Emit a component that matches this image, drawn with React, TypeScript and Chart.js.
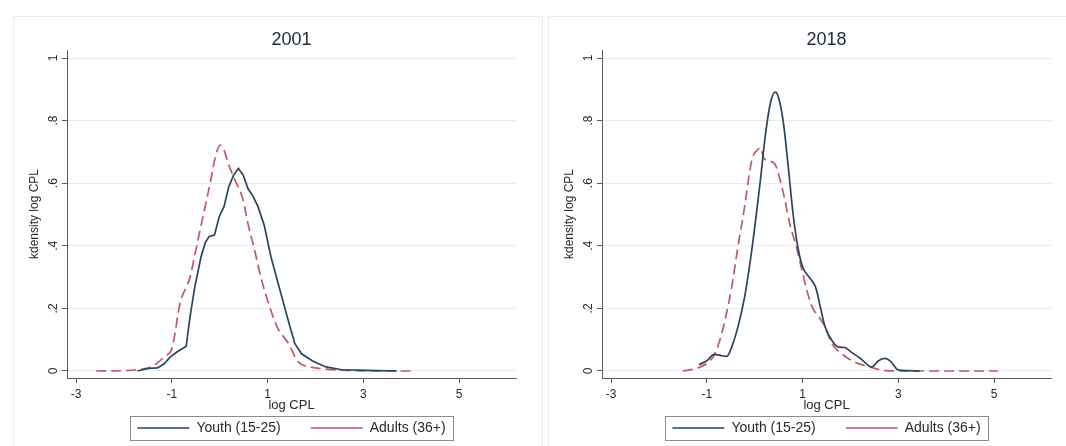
import React, { useEffect, useRef } from "react";
import { Chart, registerables } from "chart.js";

Chart.register(...registerables);

// ---- data -------------------------------------------------------------
const X_TICKS = [-3, -1, 1, 3, 5];
const Y_TICKS = [0, 0.2, 0.4, 0.6, 0.8, 1];
const X_TITLE = "log CPL";
const Y_TITLE = "kdensity log CPL";
const SERIES_LABELS = ["Youth (15-25)", "Adults (36+)"];
const PANEL_TITLES = ["2001", "2018"];

const youth2001X = [-1.72, -1.5, -1.3, -1.16, -1.03, -0.9, -0.82, -0.7, -0.62, -0.52, -0.39, -0.3, -0.22, -0.11, -0.01, 0.09, 0.19, 0.29, 0.39, 0.49, 0.59, 0.7, 0.8, 0.93, 1.07, 1.24, 1.41, 1.57, 1.71, 1.95, 2.22, 2.55, 3.09, 3.7];
const youth2001Y = [0, 0.008, 0.01, 0.023, 0.045, 0.06, 0.068, 0.079, 0.173, 0.269, 0.365, 0.41, 0.43, 0.434, 0.493, 0.525, 0.589, 0.626, 0.647, 0.626, 0.583, 0.557, 0.525, 0.466, 0.365, 0.269, 0.173, 0.087, 0.055, 0.031, 0.013, 0.004, 0.002, 0];

const adults2001X = [-2.58, -2.0, -1.74, -1.43, -1.16, -0.99, -0.83, -0.62, -0.48, -0.34, -0.2, -0.08, 0.01, 0.09, 0.19, 0.32, 0.49, 0.59, 0.73, 0.86, 1.0, 1.2, 1.44, 1.64, 1.88, 2.22, 2.69, 3.36, 4.05];
const adults2001Y = [0, 0.001, 0.004, 0.013, 0.045, 0.077, 0.215, 0.3, 0.4, 0.5, 0.6, 0.69, 0.722, 0.706, 0.658, 0.61, 0.546, 0.471, 0.386, 0.3, 0.226, 0.141, 0.087, 0.029, 0.013, 0.006, 0.002, 0, 0];

const youth2018X = [-1.16, -0.99, -0.85, -0.72, -0.58, -0.48, -0.35, -0.21, -0.08, 0.02, 0.12, 0.22, 0.33, 0.43, 0.49, 0.6, 0.7, 0.8, 0.9, 1.0, 1.13, 1.27, 1.37, 1.47, 1.61, 1.74, 1.88, 2.01, 2.21, 2.45, 2.58, 2.72, 2.85, 2.99, 3.2, 3.45];
const youth2018Y = [0.02, 0.034, 0.053, 0.05, 0.047, 0.077, 0.141, 0.237, 0.365, 0.483, 0.611, 0.75, 0.857, 0.891, 0.878, 0.793, 0.654, 0.504, 0.397, 0.333, 0.301, 0.269, 0.205, 0.141, 0.098, 0.077, 0.075, 0.061, 0.04, 0.013, 0.032, 0.04, 0.029, 0.004, 0.001, 0];

const adults2018X = [-1.5, -1.16, -0.96, -0.85, -0.75, -0.62, -0.48, -0.35, -0.21, -0.11, -0.05, 0.06, 0.12, 0.19, 0.33, 0.43, 0.53, 0.63, 0.73, 0.87, 0.97, 1.07, 1.2, 1.34, 1.47, 1.61, 1.81, 2.08, 2.35, 2.62, 2.96, 4.0, 5.08];
const adults2018Y = [0, 0.011, 0.029, 0.05, 0.088, 0.162, 0.269, 0.397, 0.526, 0.632, 0.68, 0.707, 0.713, 0.68, 0.67, 0.659, 0.611, 0.547, 0.472, 0.397, 0.333, 0.269, 0.205, 0.173, 0.141, 0.088, 0.056, 0.029, 0.015, 0.004, 0, 0, 0];

// ---- styling ----------------------------------------------------------
const FONT = "'Liberation Sans', Arial, Helvetica, sans-serif";
const YOUTH_COLOR = "#2a4361";
const ADULT_COLOR = "#bf5a64";
const AXIS_COLOR = "#5a5a5a";
const GRID_COLOR = "#e6ecee";
const TEXT_COLOR = "#2a2a2a";

const CANVAS_W = 528;
const CANVAS_H = 428;

const pts = (xs: number[], ys: number[]) => xs.map((x, i) => ({ x, y: ys[i] }));

// The legend sits close under the axis (Stata style); give the x-axis box
// enough depth after layout so its tick labels and title are not clipped.
const xAxisRoom = {
  id: "xAxisRoom",
  afterLayout(chart: any) {
    const s = chart.scales.x;
    if (!s) return;
    s.bottom = s.top + 40;
    s.height = 40;
  },
};

const legendFrame = {
  id: "legendFrame",
  afterDraw(chart: any) {
    const lg = chart.legend;
    if (!lg || !lg.legendHitBoxes || !lg.legendHitBoxes.length) return;
    const hb = lg.legendHitBoxes;
    const left = Math.min(...hb.map((h: any) => h.left)) - 7;
    const right = Math.max(...hb.map((h: any) => h.left + h.width)) + 8;
    const top = Math.min(...hb.map((h: any) => h.top)) - 5;
    const bottom = Math.max(...hb.map((h: any) => h.top + h.height)) + 5;
    const ctx = chart.ctx;
    ctx.save();
    ctx.strokeStyle = "#8c8c8c";
    ctx.lineWidth = 1;
    ctx.strokeRect(Math.round(left) + 0.5, Math.round(top) + 0.5, Math.round(right - left), Math.round(bottom - top));
    ctx.restore();
  },
};

function Panel(props: { title: string; yx: number[]; yy: number[]; ax: number[]; ay: number[]; smoothYouth: boolean }) {
  const ref = useRef<HTMLCanvasElement | null>(null);
  useEffect(() => {
    if (!ref.current) return;
    const chart = new Chart(ref.current, {
      type: "line",
      data: {
        datasets: [
          {
            label: SERIES_LABELS[0],
            data: pts(props.yx, props.yy),
            borderColor: YOUTH_COLOR,
            backgroundColor: YOUTH_COLOR,
            borderWidth: 1.7,
            pointRadius: 0,
            fill: false,
            tension: props.smoothYouth ? 0.4 : 0,
            cubicInterpolationMode: props.smoothYouth ? "monotone" : "default",
          } as any,
          {
            label: SERIES_LABELS[1],
            data: pts(props.ax, props.ay),
            borderColor: ADULT_COLOR,
            backgroundColor: ADULT_COLOR,
            borderWidth: 1.7,
            borderDash: [10, 5],
            pointRadius: 0,
            fill: false,
            tension: 0.4,
            cubicInterpolationMode: "monotone",
          } as any,
        ],
      },
      options: {
        responsive: false,
        animation: false,
        events: [],
        layout: { padding: { left: 0, right: 26, top: 0, bottom: 0 } },
        scales: {
          x: {
            type: "linear",
            min: -3.19,
            max: 6.19,
            afterBuildTicks: (s: any) => {
              s.ticks = X_TICKS.map((v) => ({ value: v }));
            },
            afterFit: (s: any) => {
              s.height = 13;
            },
            ticks: {
              autoSkip: false,
              minRotation: 0,
              maxRotation: 0,
              padding: 4,
              color: TEXT_COLOR,
              font: { family: FONT, size: 12 },
              callback: (v: any) => String(v),
            },
            grid: { drawOnChartArea: false, drawTicks: true, tickLength: 5, tickColor: AXIS_COLOR, color: AXIS_COLOR },
            border: { display: true, color: AXIS_COLOR, width: 1 },
            title: {
              display: true,
              text: X_TITLE,
              color: TEXT_COLOR,
              font: { family: FONT, size: 13 },
              padding: { top: 0, bottom: 4.5 },
            },
          },
          y: {
            type: "linear",
            min: -0.0224,
            max: 1.0256,
            afterBuildTicks: (s: any) => {
              s.ticks = Y_TICKS.map((v) => ({ value: v }));
            },
            afterFit: (s: any) => {
              s.width = 53;
            },
            ticks: {
              autoSkip: false,
              minRotation: 90,
              maxRotation: 90,
              crossAlign: "center",
              padding: 3,
              color: TEXT_COLOR,
              font: { family: FONT, size: 12 },
              callback: (v: any) => (v === 0 ? "0" : v === 1 ? "1" : String(v).replace(/^0/, "")),
            },
            grid: { drawOnChartArea: true, drawTicks: true, tickLength: 5, color: GRID_COLOR, tickColor: AXIS_COLOR },
            border: { display: true, color: AXIS_COLOR, width: 1 },
            title: {
              display: true,
              text: Y_TITLE,
              color: TEXT_COLOR,
              font: { family: FONT, size: 12 },
              padding: { top: 13.8, bottom: 0 },
            },
          },
        },
        plugins: {
          title: {
            display: true,
            text: props.title,
            fullSize: false,
            color: "#1f2a36",
            font: { family: FONT, size: 18, weight: "normal", lineHeight: 1 },
            padding: { top: 14, bottom: 1 },
          },
          legend: {
            display: true,
            position: "bottom",
            fullSize: false,
            labels: {
              usePointStyle: true,
              pointStyle: "line",
              pointStyleWidth: 52,
              padding: 30,
              color: TEXT_COLOR,
              font: { family: FONT, size: 14 },
            },
          },
          tooltip: { enabled: false },
        },
      } as any,
      plugins: [xAxisRoom, legendFrame],
    });
    return () => chart.destroy();
  }, []);
  return <canvas ref={ref} width={CANVAS_W} height={CANVAS_H} style={{ display: "block" }} />;
}

export default function App() {
  const frame: React.CSSProperties = {
    position: "absolute",
    top: 16,
    width: 530,
    height: 440,
    border: "1px solid #ebebeb",
    boxSizing: "border-box",
    background: "#fff",
  };
  return (
    <div style={{ position: "fixed", left: 0, top: 0, width: 1066, height: 446, overflow: "hidden", background: "#fff" }}>
      <div style={{ ...frame, left: 13 }}>
        <Panel title={PANEL_TITLES[0]} yx={youth2001X} yy={youth2001Y} ax={adults2001X} ay={adults2001Y} smoothYouth={false} />
      </div>
      <div style={{ ...frame, left: 548 }}>
        <Panel title={PANEL_TITLES[1]} yx={youth2018X} yy={youth2018Y} ax={adults2018X} ay={adults2018Y} smoothYouth={true} />
      </div>
    </div>
  );
}
